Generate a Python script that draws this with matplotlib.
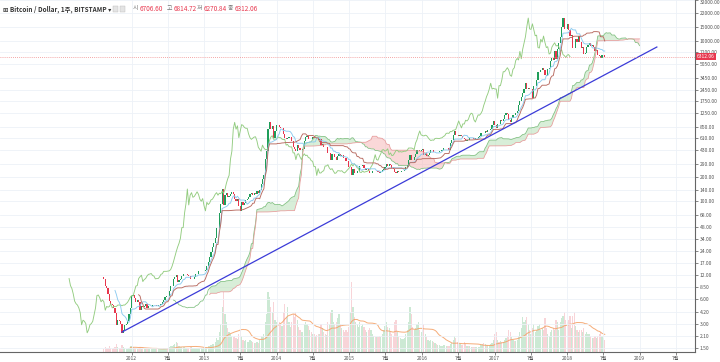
import numpy as np
import pandas as pd
import matplotlib
matplotlib.use('Agg')
import matplotlib.pyplot as plt
from matplotlib.ticker import NullLocator
from matplotlib.patches import Rectangle

plt.rcParams['font.family'] = ['Noto Sans CJK KR', 'DejaVu Sans']

# weekly closes, BTC/USD Bitstamp, weeks start on Monday (first week 2011-08-15)
start_week = '2011-08-15'
first_open = 11.4
close_2011 = [10.9, 8.9, 8.2, 7.0, 5.7, 5.3, 5.1, 4.7, 4.1, 2.9,
              3.3, 3.2, 3.0, 2.3, 2.5, 2.9, 3.0, 3.2, 3.9, 4.7]
close_2012 = [6.7, 6.8, 6.3, 5.6, 5.9, 5.6, 4.4, 4.9, 4.8, 4.9,
              5.3, 4.7, 4.9, 4.9, 4.9, 5.1, 5.1, 5.1, 5.0, 5.1,
              5.1, 5.3, 5.5, 5.9, 6.4, 6.7, 6.6, 7.6, 8.8, 8.9,
              10.9, 11.5, 12.0, 10.0, 10.6, 10.9, 11.7, 12.3, 12.4, 12.6,
              11.9, 11.7, 10.8, 10.9, 10.9, 11.4, 12.3, 12.5, 13.4, 13.4,
              13.4, 13.5, 13.6]
close_2013 = [14.1, 15.5, 17.6, 20.4, 23.6, 26.9, 29.9, 34.5, 46.9, 47.0,
              71.5, 93.0, 142, 90, 119, 128, 112, 115, 123, 131,
              122, 106, 100, 108, 88, 76, 97, 91, 95, 104,
              106, 113, 122, 128, 119, 126, 124, 133, 126, 139,
              166, 190, 210, 335, 420, 790, 960, 790, 870, 620,
              750, 900]
close_2014 = [880, 830, 810, 810, 690, 620, 590, 610, 630, 635,
              565, 470, 445, 420, 500, 460, 440, 440, 450, 570,
              630, 655, 590, 595, 590, 635, 620, 620, 595, 585,
              590, 500, 510, 480, 475, 475, 400, 400, 330, 385,
              390, 355, 330, 365, 390, 370, 375, 350, 345, 320,
              315, 270]
close_2015 = [270, 210, 255, 225, 225, 235, 240, 275, 275, 285,
              260, 248, 255, 237, 222, 226, 240, 240, 237, 240,
              230, 225, 234, 245, 255, 270, 292, 275, 293, 280,
              262, 255, 230, 228, 238, 230, 233, 235, 240, 245,
              268, 285, 325, 380, 330, 325, 360, 390, 435, 440,
              420, 430]
close_2016 = [450, 380, 400, 370, 375, 400, 430, 430, 410, 415,
              410, 415, 420, 420, 430, 460, 460, 460, 455, 440,
              530, 580, 670, 750, 670, 660, 650, 665, 655, 620,
              590, 570, 580, 575, 605, 608, 606, 602, 612, 617,
              640, 655, 700, 705, 700, 740, 735, 765, 770, 790,
              890, 1000]
close_2017 = [900, 820, 920, 915, 1020, 1000, 1050, 1180, 1250, 1220,
              1030, 970, 1080, 1190, 1180, 1240, 1340, 1560, 1750, 2000,
              2200, 2500, 2950, 2500, 2550, 2500, 2500, 1920, 2750, 2750,
              3230, 4100, 4100, 4350, 4600, 4300, 3700, 3600, 4380, 4600,
              5650, 6000, 5750, 7350, 5950, 7800, 9300, 11200, 15000, 19100,
              14000, 13800]
close_2018 = [16200, 13600, 11500, 11700, 8200, 8100, 10400, 9600, 11400, 9500,
              8200, 8400, 6800, 7000, 8300, 8900, 9400, 8600, 8700, 8400,
              7350, 7700, 6700, 6500, 6150, 6600, 6706.60, 6312.06]

# weekly volume, read as bar height (arbitrary units)
vol_2011 = [3, 5, 4, 4, 6, 4, 3, 4, 5, 8, 5, 4, 4, 7, 5, 4, 3, 3, 4, 6]
vol_2012 = [6, 5, 4, 4, 3, 3, 5, 3, 3, 3,
            3, 3, 3, 3, 3, 3, 3, 3, 3, 3,
            3, 3, 3, 4, 4, 4, 4, 5, 6, 6,
            7, 8, 10, 9, 6, 5, 5, 5, 5, 4,
            4, 4, 5, 5, 4, 4, 4, 4, 4, 4,
            4, 3, 4]
vol_2013 = [4, 5, 6, 6, 7, 8, 8, 10, 14, 12,
            20, 28, 45, 60, 38, 30, 24, 20, 18, 16,
            15, 16, 14, 13, 18, 22, 16, 12, 11, 12,
            10, 10, 12, 11, 10, 9, 9, 10, 9, 12,
            16, 15, 18, 30, 38, 60, 55, 45, 40, 50,
            32, 30]
vol_2014 = [35, 30, 28, 26, 40, 48, 35, 45, 30, 25,
            30, 38, 35, 40, 32, 25, 22, 20, 20, 28,
            30, 28, 26, 22, 20, 18, 18, 16, 17, 18,
            18, 28, 24, 20, 18, 17, 30, 28, 40, 42,
            30, 28, 30, 34, 38, 28, 24, 22, 20, 22,
            20, 25]
vol_2015 = [40, 70, 45, 35, 30, 28, 25, 30, 26, 28,
            25, 22, 20, 22, 24, 22, 18, 16, 15, 15,
            15, 16, 15, 18, 22, 26, 30, 25, 24, 20,
            18, 16, 30, 32, 20, 15, 14, 13, 13, 14,
            18, 22, 30, 45, 38, 25, 22, 24, 28, 30,
            22, 20]
vol_2016 = [22, 28, 18, 15, 12, 11, 12, 11, 10, 9,
            8, 7, 7, 6, 6, 7, 7, 6, 6, 6,
            8, 9, 12, 16, 14, 10, 9, 8, 7, 7,
            10, 8, 6, 6, 6, 5, 5, 5, 5, 5,
            5, 5, 7, 8, 9, 8, 7, 7, 7, 8,
            9, 12]
vol_2017 = [18, 20, 12, 10, 11, 10, 10, 12, 14, 16,
            22, 20, 15, 12, 11, 11, 12, 16, 20, 24,
            35, 30, 32, 35, 28, 22, 18, 24, 28, 20,
            22, 26, 28, 22, 24, 22, 34, 24, 18, 16,
            20, 22, 24, 22, 32, 30, 22, 30, 34, 36,
            40, 32]
vol_2018 = [30, 32, 36, 24, 36, 40, 26, 22, 20, 22,
            22, 20, 24, 18, 20, 18, 18, 16, 14, 14,
            16, 14, 16, 18, 20, 16, 14, 12]

tick_prices = [32000, 22000, 15000, 10000, 7200, 5050, 3450, 2450, 1750, 1250,
               850, 610, 430, 290, 200, 140, 100, 68, 48, 34, 24, 17, 12,
               8.5, 6, 4.2, 3, 2.1, 1.5]
date_ticks = ['2012-01-01', '2012-07-01', '2013-01-01', '2013-07-01',
              '2014-01-01', '2014-07-01', '2015-01-01', '2015-07-01',
              '2016-01-01', '2016-07-01', '2017-01-01', '2017-07-01',
              '2018-01-01', '2018-07-01', '2019-01-01', '2019-07-01']
date_labels = ['2012', '7월', '2013', '7월', '2014', '7월', '2015', '7월',
               '2016', '7월', '2017', '7월', '2018', '7월', '2019', '7월']

trend_dates = ['2011-11-14', '2019-03-28']
trend_prices = [2.35, 8330]

header_title = '⊞ Bitcoin / Dollar, 1주, BITSTAMP ▾'
ohlc_names = ['시', '고', '저', '종']
ohlc_values = ['6706.60', '6814.72', '6270.84', '6312.06']

# =====================================================================================
closes = np.array(close_2011 + close_2012 + close_2013 + close_2014 +
                  close_2015 + close_2016 + close_2017 + close_2018, dtype=float)
vols = np.array(vol_2011 + vol_2012 + vol_2013 + vol_2014 +
                vol_2015 + vol_2016 + vol_2017 + vol_2018, dtype=float)
opens = np.r_[first_open, closes[:-1]]
n = len(closes)
shift = 25
allDates = pd.date_range(start_week, periods=n + shift, freq='7D')
dates = allDates[:n]
laggingDates = dates - pd.Timedelta(weeks=shift)
up = closes >= opens

hi = pd.Series(np.maximum(opens, closes))
lo = pd.Series(np.minimum(opens, closes))
tenkan = (hi.rolling(9).max() + lo.rolling(9).min()) / 2
kijun = (hi.rolling(26).max() + lo.rolling(26).min()) / 2
spanA = ((tenkan + kijun) / 2).values
spanB = ((hi.rolling(52).max() + lo.rolling(52).min()) / 2).values
spanDates = allDates[shift:shift + n]
volMa = pd.Series(vols).rolling(20).mean()

# =====================================================================================
fig = plt.figure(figsize=(7.2, 3.62), dpi=100)
fig.patch.set_facecolor('white')
axV = fig.add_axes([0, 10 / 362, 695 / 720, 352 / 362])
ax = axV.twinx()
ax.set_zorder(2)
ax.patch.set_visible(False)

# volume underneath
axV.bar(dates[up], vols[up], width=6, color='#8fd0a0', alpha=0.45, linewidth=0)
axV.bar(dates[~up], vols[~up], width=6, color='#f0a0aa', alpha=0.45, linewidth=0)
axV.plot(dates, volMa, color='#f4a36a', lw=0.7, alpha=0.9)
axV.set_ylim(0, 352)
axV.set_yticks([])
for s in ['left', 'top', 'right']:
    axV.spines[s].set_visible(False)
axV.spines['bottom'].set_color('#666666')
axV.spines['bottom'].set_linewidth(0.8)

ax.set_yscale('log')
ax.set_ylim(1.327, 32070)
x0 = pd.Timestamp('2012-01-01') - pd.Timedelta(days=131.5 / 72.6 * 365.25)
x1 = pd.Timestamp('2012-01-01') + pd.Timedelta(days=563.5 / 72.6 * 365.25)
axV.set_xlim(x0, x1)

# grid
for p in tick_prices:
    ax.axhline(p, color='#edf1f7', lw=0.6, zorder=0)
for d in pd.to_datetime(date_ticks):
    ax.axvline(d, color='#edf1f7', lw=0.6, zorder=0)

# ichimoku cloud
ax.fill_between(spanDates, spanA, spanB, where=spanA >= spanB, interpolate=True,
                color='#b9e0b9', alpha=0.55, linewidth=0)
ax.fill_between(spanDates, spanA, spanB, where=spanA < spanB, interpolate=True,
                color='#f6b8b8', alpha=0.55, linewidth=0)
ax.plot(spanDates, spanA, color='#7fbf7f', lw=0.55)
ax.plot(spanDates, spanB, color='#e79a9a', lw=0.55)
ax.plot(laggingDates, closes, color='#93cc80', lw=0.65)
ax.plot(dates, tenkan, color='#8ccbf0', lw=0.65)
ax.plot(dates, kijun, color='#b86a60', lw=0.65)

# candles
ax.bar(dates[up], (closes - opens)[up], bottom=opens[up], width=6,
       color='#1f9e5a', linewidth=0)
ax.bar(dates[~up], (closes - opens)[~up], bottom=opens[~up], width=6,
       color='#e8364d', linewidth=0)

# trend line and last price
ax.plot(pd.to_datetime(trend_dates), trend_prices, color='#3b3bd8', lw=0.9)
ax.axhline(closes[-1], color='#f08a8a', lw=0.6, ls=(0, (1, 1.5)))

ax.yaxis.set_minor_locator(NullLocator())
ax.set_yticks(tick_prices)
ax.set_yticklabels(['%.2f' % p for p in tick_prices])
ax.tick_params(axis='y', labelsize=3.6, colors='#555555', length=2, width=0.5, pad=1.5)
ax.get_yticklabels()[0].set_va('top')
ax.set_xticks(pd.to_datetime(date_ticks))
ax.set_xticklabels(date_labels)
axV.set_xticks(pd.to_datetime(date_ticks))
axV.set_xticklabels(date_labels)
axV.tick_params(axis='x', labelsize=3.6, colors='#555555', length=2, width=0.5, pad=1)
for s in ['left', 'top', 'bottom']:
    ax.spines[s].set_visible(False)
ax.spines['right'].set_color('#666666')
ax.spines['right'].set_linewidth(0.8)

ax.annotate('%.2f' % closes[-1], xy=(1.0, closes[-1]), xycoords=('axes fraction', 'data'),
            xytext=(1.5, 0), textcoords='offset points', fontsize=3.6, color='white',
            va='center', ha='left',
            bbox=dict(boxstyle='square,pad=0.25', fc='#e8384f', ec='none'), zorder=5)

# header
fig.text(3 / 720, 1 - 9 / 362, header_title, fontsize=4.6, color='#333333',
         weight='bold', va='center', ha='left')
for xi in [113, 120]:
    fig.patches.append(Rectangle((xi / 720, 1 - 12 / 362), 5 / 720, 6 / 362,
                                 transform=fig.transFigure, fc='#e4e4e4', ec='#bbbbbb', lw=0.3))
label_x = [133, 167, 197, 228]
value_x = [139.5, 173.5, 203.5, 234.5]
for lab, val, lx, vx in zip(ohlc_names, ohlc_values, label_x, value_x):
    fig.text(lx / 720, 1 - 9 / 362, lab, fontsize=4.3, color='#777777', va='center', ha='left')
    fig.text(vx / 720, 1 - 9 / 362, val, fontsize=4.6, color='#e8384f', va='center', ha='left')

plt.savefig('out.png', dpi=100)
plt.close()
